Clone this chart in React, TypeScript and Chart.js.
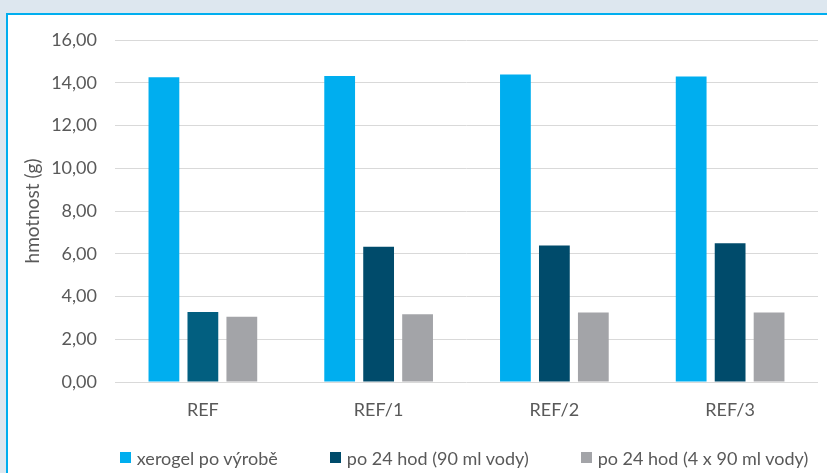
import React, { useEffect, useRef } from "react";
import { Chart, registerables } from "chart.js";

Chart.register(...registerables);

const categories = ["REF", "REF/1", "REF/2", "REF/3"];
const seriesNames = ["xerogel po výrobě", "po 24 hod (90 ml vody)", "po 24 hod (4 x 90 ml vody)"];
const xerogelValues = [14.26, 14.31, 14.39, 14.29];
const water90Values = [3.27, 6.33, 6.39, 6.49];
const water4x90Values = [3.05, 3.17, 3.25, 3.25];
const yTicks = [0, 2, 4, 6, 8, 10, 12, 14, 16];

const CYAN = "#00aeef";
const DARK = "#004b6b";
const DARK_REF = "#025f80";
const GRAY = "#a3a4a8";
const TEXT = "#595959";
const FONT = "Lato, 'Noto Sans', sans-serif";

const legendColors = [CYAN, DARK, GRAY];

export default function App() {
  const canvasRef = useRef<HTMLCanvasElement | null>(null);

  useEffect(() => {
    const canvas = canvasRef.current;
    if (!canvas) return;
    const chart = new Chart(canvas, {
      type: "bar",
      data: {
        labels: categories,
        datasets: [
          { label: seriesNames[0], data: xerogelValues, backgroundColor: CYAN },
          {
            label: seriesNames[1],
            data: water90Values,
            backgroundColor: water90Values.map((_, i) => (i === 0 ? DARK_REF : DARK)),
          },
          { label: seriesNames[2], data: water4x90Values, backgroundColor: GRAY },
        ],
      },
      options: {
        animation: false,
        responsive: false,
        maintainAspectRatio: false,
        layout: { padding: { left: 0, right: 9, top: 40, bottom: 0 } },
        datasets: {
          bar: { categoryPercentage: 0.665, barPercentage: 0.79 },
        },
        plugins: {
          legend: { display: false },
          tooltip: { enabled: false },
        },
        scales: {
          x: {
            grid: { display: false, drawTicks: false },
            border: { display: false },
            ticks: {
              color: TEXT,
              font: { family: FONT, size: 18 },
              padding: 17,
            },
            afterFit: (scale: any) => {
              scale.height = 91;
            },
          },
          y: {
            min: 0,
            max: 16,
            afterBuildTicks: (scale: any) => {
              scale.ticks = yTicks.map((v) => ({ value: v }));
            },
            grid: { color: "#d9d9d9", lineWidth: 1, drawTicks: false },
            border: { display: false },
            ticks: {
              color: TEXT,
              font: { family: FONT, size: 18 },
              padding: 18,
              callback: (v: any) => Number(v).toFixed(2).replace(".", ","),
            },
            title: {
              display: true,
              text: "hmotnost (g)",
              color: TEXT,
              font: { family: FONT, size: 19 },
              padding: { top: 21, bottom: 0 },
            },
            afterFit: (scale: any) => {
              scale.width = 115;
            },
          },
        },
      },
    });
    return () => chart.destroy();
  }, []);

  return (
    <div style={{ position: "fixed", inset: 0, background: "#dde7ef", overflow: "hidden" }}>
      <div
        style={{
          position: "absolute",
          left: 6,
          top: 13,
          right: -10,
          bottom: -10,
          background: "#ffffff",
          border: "2.5px solid #00aeef",
        }}
      />
      <canvas
        ref={canvasRef}
        width={827}
        height={473}
        style={{ position: "absolute", left: 0, top: 0, width: 827, height: 473 }}
      />
      <div
        style={{
          position: "absolute",
          left: 0,
          width: 928,
          top: 446,
          height: 23,
          display: "flex",
          justifyContent: "center",
          alignItems: "center",
          gap: 52,
          fontFamily: FONT,
          fontSize: 18,
          color: TEXT,
          whiteSpace: "nowrap",
        }}
      >
        {seriesNames.map((name, i) => (
          <div key={name} style={{ display: "flex", alignItems: "center" }}>
            <span
              style={{
                display: "inline-block",
                width: 11,
                height: 11,
                background: legendColors[i],
                marginRight: 6,
              }}
            />
            <span>{name}</span>
          </div>
        ))}
      </div>
    </div>
  );
}
